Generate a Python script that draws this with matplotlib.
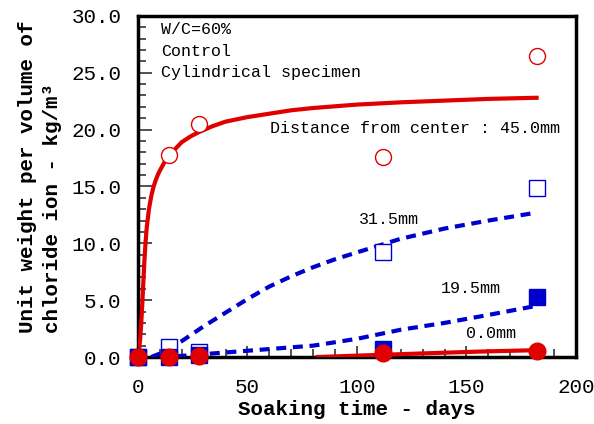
import matplotlib
matplotlib.use("Agg")
import matplotlib.pyplot as plt
from matplotlib.ticker import MultipleLocator, FormatStrFormatter

plt.rcParams['font.family'] = ['Liberation Mono', 'DejaVu Sans Mono']

# measured points (days, kg/m3)
days = [0, 14, 28, 112, 182]
pt_45 = [0, 17.8, 20.5, 17.6, 26.5]
pt_315 = [0, 0.9, 0.45, 9.2, 14.9]
pt_195 = [0, 0.0, 0.2, 0.7, 5.3]
pt_00 = [0, 0.0, 0.1, 0.35, 0.5]

# fitted curves
fit45_t = [0, 0.5, 1, 1.5, 2, 2.5, 3, 3.5, 4, 5, 6, 7, 8, 9, 10, 12, 14, 17, 20, 24, 28,
           34, 40, 50, 60, 70, 80, 90, 100, 120, 140, 160, 182]
fit45_c = [0, 0.6, 1.6, 3.0, 4.8, 6.8, 8.7, 10.2, 11.4, 13.0, 14.1, 14.9, 15.5, 16.0,
           16.4, 17.1, 17.6, 18.3, 18.9, 19.4, 19.8, 20.3, 20.7, 21.1, 21.4, 21.7,
           21.9, 22.05, 22.2, 22.4, 22.55, 22.7, 22.8]
fit315_t = [6, 10, 20, 30, 40, 50, 60, 70, 80, 90, 100, 110, 120, 140, 160, 182]
fit315_c = [0, 0.3, 1.4, 2.7, 3.9, 5.1, 6.2, 7.1, 7.9, 8.6, 9.2, 9.8, 10.4, 11.3, 12.0, 12.7]
fit195_t = [10, 20, 30, 40, 50, 60, 80, 100, 120, 140, 160, 182]
fit195_c = [0, 0.1, 0.25, 0.4, 0.55, 0.7, 1.0, 1.6, 2.4, 3.0, 3.7, 4.5]
fit00_t = [82, 100, 120, 140, 160, 182]
fit00_c = [0, 0.12, 0.25, 0.38, 0.5, 0.6]

red = '#e00000'
blue = '#0000cc'
dash = (0, (2.4, 1.6))

fig = plt.figure(figsize=(5.94, 4.24), dpi=100)
ax = fig.add_axes([0.2323, 0.158, 0.7374, 0.8045])

ax.plot(fit45_t, fit45_c, color=red, lw=3, zorder=3)
ax.plot(fit315_t, fit315_c, color=blue, lw=3, ls=dash, zorder=3)
ax.plot(fit195_t, fit195_c, color=blue, lw=3, ls=dash, zorder=3)
ax.plot(fit00_t, fit00_c, color=red, lw=3, zorder=3)

ax.plot(days, pt_45, 'o', ms=11.5, mfc='white', mec=red, mew=1, clip_on=False, zorder=4)
ax.plot(days, pt_315, 's', ms=12, mfc='white', mec=blue, mew=1, clip_on=False, zorder=5)
ax.plot(days, pt_195, 's', ms=12, mfc=blue, mec=blue, mew=1, clip_on=False, zorder=6)
ax.plot(days, pt_00, 'o', ms=12, mfc=red, mec=red, mew=1, clip_on=False, zorder=7)

ax.set_xlim(0, 200)
ax.set_ylim(0, 30)
ax.xaxis.set_major_locator(MultipleLocator(50))
ax.xaxis.set_minor_locator(MultipleLocator(10))
ax.yaxis.set_major_locator(MultipleLocator(5))
ax.yaxis.set_minor_locator(MultipleLocator(1))
ax.yaxis.set_major_formatter(FormatStrFormatter('%.1f'))
ax.tick_params(which='both', direction='in', top=False, right=False, color='#333333')
ax.tick_params(which='major', length=10, width=1.2, labelsize=15)
ax.tick_params(which='minor', length=6, width=1.2)
ax.tick_params(axis='x', which='major', length=8, pad=15)
ax.tick_params(axis='y', which='major', pad=12)
for s in ax.spines.values():
    s.set_linewidth(2.5)

ax.set_xlabel('Soaking time - days', fontsize=15, fontweight='bold', labelpad=2)
fig.text(40 / 594, 1 - 333 / 424, 'Unit weight per volume of\nchloride ion - kg/m³',
         rotation=90, ha='center', va='bottom', multialignment='left',
         fontsize=15, fontweight='bold', linespacing=1.4)

ax.text(10.5, 28.8, 'W/C=60%', fontsize=12, va='center')
ax.text(10.5, 26.9, 'Control', fontsize=12, va='center')
ax.text(10.5, 25.0, 'Cylindrical specimen', fontsize=12, va='center')
ax.text(60.4, 20.1, 'Distance from center : 45.0mm', fontsize=12, va='center')
ax.text(114.4, 12.1, '31.5mm', fontsize=12, ha='center', va='center')
ax.text(152, 6.0, '19.5mm', fontsize=12, ha='center', va='center')
ax.text(161, 2.1, '0.0mm', fontsize=12, ha='center', va='center')

fig.savefig('out.png', dpi=100)
